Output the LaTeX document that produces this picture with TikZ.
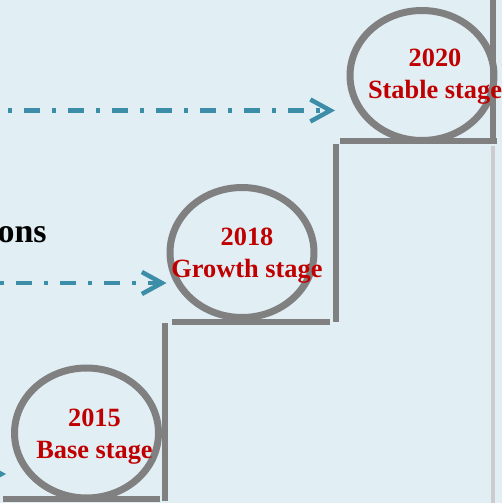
\documentclass[tikz,border=0pt]{standalone}
\usepackage{fontspec}
\setmainfont{Liberation Serif}
\usetikzlibrary{shapes.geometric,arrows.meta}
\definecolor{bgblue}{RGB}{225,238,244}
\definecolor{stepgray}{RGB}{128,128,128}
\definecolor{stagered}{RGB}{192,0,0}
\definecolor{flowteal}{RGB}{60,142,168}
\tikzset{
	stage/.style={ellipse, draw=stepgray, line width=0.14cm, minimum width=2.88cm, minimum height=2.6cm, inner sep=0pt},
	stagetext/.style={text=stagered, font=\fontsize{15pt}{18.2pt}\selectfont\bfseries, align=center, inner sep=0pt},
	stair/.style={draw=stepgray, line width=0.13cm},
	flow/.style={draw=flowteal, line width=0.09cm, dash pattern=on 0.32cm off 0.24cm on 0.08cm off 0.24cm, -{Straight Barb[length=0.4cm,width=0.44cm]}}
}
\begin{document}
\begin{tikzpicture}[x=0.02cm, y=-0.02cm]
	%background
	\fill[bgblue] (0,0) rectangle (502,503);
	\useasboundingbox (0,0) rectangle (502,503);
	\clip (0,0) rectangle (502,503);
	\draw[gray!40, line width=0.08cm] (493,146) -- (493,503);
	%stairs
	\draw[stair] (3,499) -- (160,499)
		(165,323) -- (165,501)
		(172,322) -- (330,322)
		(336,144) -- (336,322)
		(340,141) -- (497,141)
		(493,0) -- (493,141);
	%stages
	\foreach \n/\x/\y in {1/86.5/433, 2/242/252.5, 3/422/75.5}
	\node[stage] (s\n) at (\x,\y) {};
	%flows
	\coordinate (f1) at (-60,474);
	\coordinate (f2) at (-28,283);
	\coordinate (f3) at (-20,110.5);
	\draw[flow, shorten >=0.1cm] (f1) -- (f1 -| s1.west);
	\draw[flow] (f2) -- (f2 -| s2.west);
	\draw[flow, shorten >=0.23cm] (f3) -- (f3 -| s3.west);
	%labels
	\node[anchor=base east, inner sep=0pt, font=\fontsize{19.3pt}{23pt}\selectfont\bfseries] (title) at (47,242) {ons};
	\foreach \n/\x/\y/\yr/\stagename in {
		1/94.5/437/2015/Base stage,
		2/247/256/2018/Growth stage,
		3/435/77/2020/Stable stage
	}
	\node[stagetext] (t\n) at (\x,\y) {\yr\\\stagename};
\end{tikzpicture}
\end{document}
